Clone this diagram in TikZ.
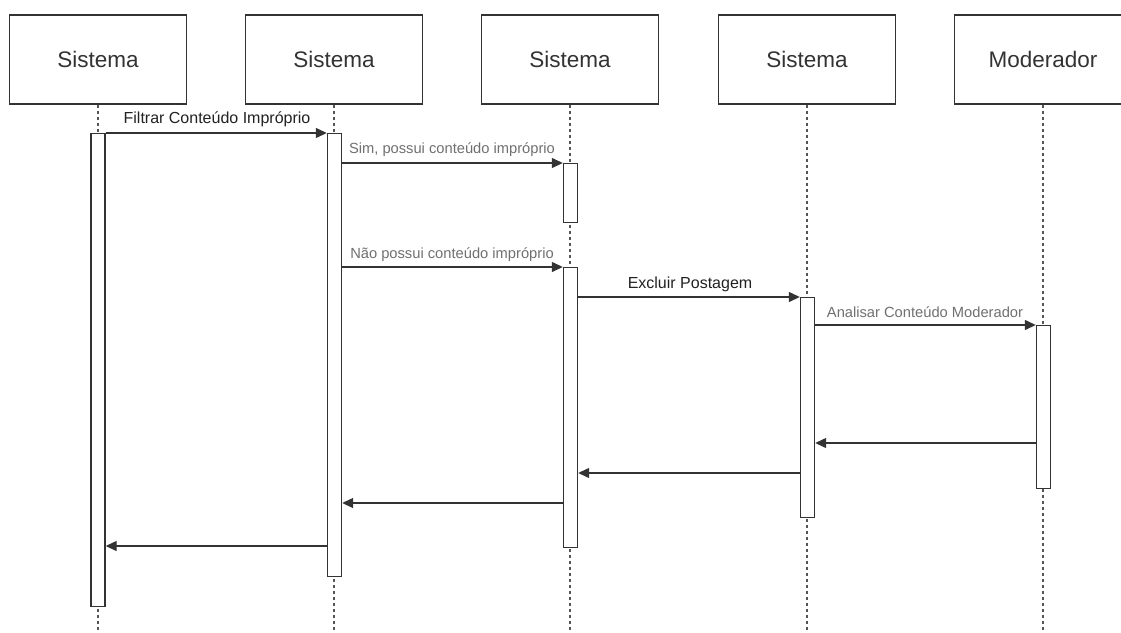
\documentclass[tikz,border=0pt]{standalone}
\usepackage{fontspec}
\setmainfont{Liberation Sans}
\usetikzlibrary{arrows.meta}
\definecolor{ln}{HTML}{333333}
\definecolor{lbl}{HTML}{222222}
\definecolor{lblg}{HTML}{707070}
\definecolor{dash}{HTML}{555555}
\tikzset{
  head/.style={draw=ln, line width=1.4pt, fill=white, minimum width=177pt, minimum height=89pt, inner sep=0pt, text=ln, font=\fontsize{22.5}{27}\selectfont},
  life/.style={draw=dash, line width=1.1pt, dash pattern=on 3pt off 3pt},
  act/.style={draw=ln, line width=1.4pt, fill=white, minimum width=14pt, inner sep=0pt, anchor=north},
  msg/.style={draw=ln, line width=1.3pt, -{Triangle[length=11pt,width=10pt]}},
  lbld/.style={text=lbl, font=\fontsize{16}{19}\selectfont, inner sep=0pt},
  lblgr/.style={text=lblg, font=\fontsize{14.7}{17}\selectfont, inner sep=0pt},
}
\begin{document}
\begin{tikzpicture}[x=1pt,y=-1pt]
\useasboundingbox[fill=white] (0,0) rectangle (1121,632);
% headers
\node[head] (h1) at (98,59.5) {Sistema};
\node[head] (h2) at (334,59.5) {Sistema};
\node[head] (h3) at (570,59.5) {Sistema};
\node[head] (h4) at (807,59.5) {Sistema};
\node[head] (h5) at (1043,59.5) {Moderador};
\coordinate (bot) at (0,632);
% lifelines
\foreach \h in {h1,h2,h3,h4,h5} {\draw[life] (\h.south) -- (\h.south |- bot);}
% activations
\node[act, minimum height=473pt] (a1) at (98,133) {};
\node[act, minimum height=443pt] (a2) at (334.5,133) {};
\node[act, minimum height=59pt] (a3) at (570.5,163) {};
\node[act, minimum height=280pt] (a3b) at (570.5,267) {};
\node[act, minimum height=220pt] (a4) at (807.5,297) {};
\node[act, minimum height=163pt] (a5) at (1043.5,325) {};
% messages
\draw[msg] (a1.north east) -- (a2.north west);
\node[lbld] (l1) at (217,119) {Filtrar Conteúdo Impróprio};
\coordinate (y2) at (0,163);
\draw[msg] (a2.east |- y2) -- (a3.north west);
\node[lblgr] (l2) at (452,150) {Sim, possui conteúdo impróprio};
\draw[msg] (a2.east |- a3b.north) -- (a3b.north west);
\node[lblgr] (l3) at (452,255) {Não possui conteúdo impróprio};
\draw[msg] (a3b.east |- a4.north) -- (a4.north west);
\node[lbld] (l4) at (690,284) {Excluir Postagem};
\draw[msg] (a4.east |- a5.north) -- (a5.north west);
\node[lblgr] (l5) at (925,312) {Analisar Conteúdo Moderador};
% returns
\coordinate (r1) at (0,443);
\coordinate (r2) at (0,473);
\coordinate (r3) at (0,503);
\coordinate (r4) at (0,546);
\draw[msg] (a5.west |- r1) -- (a4.east |- r1);
\draw[msg] (a4.west |- r2) -- (a3b.east |- r2);
\draw[msg] (a3b.west |- r3) -- (a2.east |- r3);
\draw[msg] (a2.west |- r4) -- (a1.east |- r4);
\end{tikzpicture}
\end{document}
